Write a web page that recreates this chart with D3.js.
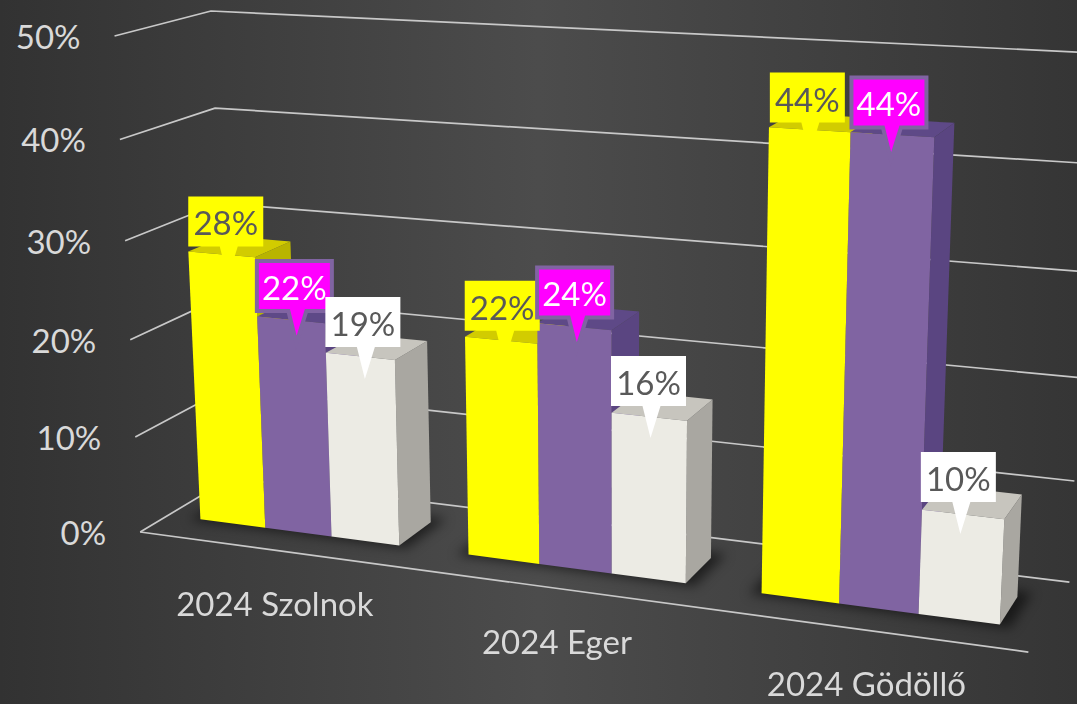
<!DOCTYPE html>
<html><head><meta charset="utf-8">
<script src="https://cdn.jsdelivr.net/npm/d3@7"></script>
<style>
html,body{margin:0;padding:0;background:#404040;}
svg{display:block;}
text{font-family:Lato,"Open Sans",sans-serif;}
</style></head><body>
<svg id="chart" width="1077" height="704"></svg>
<script>
// ---------- data ----------
const categories = ["2024 Szolnok", "2024 Eger", "2024 Gödöllő"];
const seriesNames = ["Sorozat 1", "Sorozat 2", "Sorozat 3"];
const yellowValues = [28, 22, 44];
const purpleValues = [22, 24, 44];
const whiteValues  = [19, 16, 10];
const yTicks = [0, 10, 20, 30, 40, 50];
const tickLabels = ["0%", "10%", "20%", "30%", "40%", "50%"];

// ---------- styles ----------
const seriesStyle = [
  {front:"#ffff00", top:"#d2cc00", side:"#b9b400", box:"#ffff00", boxStroke:"none", text:"#595959"},
  {front:"#8064a2", top:"#5e4987", side:"#5a4581", box:"#ff00ff", boxStroke:"#8064a2", text:"#ffffff"},
  {front:"#ecebe4", top:"#c7c5be", side:"#a9a7a1", box:"#ffffff", boxStroke:"none", text:"#595959"}
];

// ---------- 3D perspective camera ----------
const cam = {
  f: 2550, cx: 538, cy: 352,
  O: [-0.156, 0.0706, 1],
  ex: [0.924, 0.091, -0.370],
  ey: [-0.0081, -0.965, -0.262],
  ez: [0.378, -0.247, 0.892]
};
function P(X, Y, Z) {
  const p = [0, 1, 2].map(i => cam.O[i] + X * cam.ex[i] + Y * cam.ey[i] + Z * cam.ez[i]);
  return [cam.cx + cam.f * p[0] / p[2], cam.cy + cam.f * p[1] / p[2]];
}
const W = 0.35, HMAX = 0.195;
const gapWidth = 1.0, gapDepth = 1.5;

const yScale = d3.scaleLinear().domain([0, 50]).range([0, HMAX]);
const xCat = d3.scaleBand().domain(categories).range([0, W]).paddingInner(0).paddingOuter(0);
const xSer = d3.scaleBand().domain(d3.range(3)).range([0, xCat.bandwidth()]).paddingInner(0).paddingOuter(gapWidth / 2);
const bw = xSer.bandwidth();
const D = bw * (1 + gapDepth);
const z0 = (D - bw) / 2, z1 = z0 + bw;

const series = [yellowValues, purpleValues, whiteValues];

const svg = d3.select("#chart");
const defs = svg.append("defs");
const bg = defs.append("linearGradient").attr("id", "bg").attr("x1", 0).attr("x2", 1).attr("y1", 0).attr("y2", 0);
[[0, "#323232"], [0.5, "#4c4c4c"], [1, "#353535"]].forEach(([o, c]) => bg.append("stop").attr("offset", o).attr("stop-color", c));
svg.append("rect").attr("width", 1077).attr("height", 704).attr("fill", "url(#bg)");
const blur = defs.append("filter").attr("id", "blur").attr("x", "-50%").attr("y", "-50%").attr("width", "200%").attr("height", "200%");
blur.append("feGaussianBlur").attr("stdDeviation", 6);

const line = d3.line();
const closed = pts => line(pts) + "Z";

// gridlines (left wall + back wall)
const grid = svg.append("g");
yTicks.forEach(t => {
  const y = yScale(t);
  grid.append("path").attr("d", line([P(0, y, 0), P(0, y, D), P(W, y, D)]))
    .attr("fill", "none").attr("stroke", "#c8c8c8").attr("stroke-width", 1.7).attr("stroke-linejoin", "round");
});
grid.append("path").attr("d", line([P(0, 0, 0), P(W, 0, 0)]))
  .attr("fill", "none").attr("stroke", "#c8c8c8").attr("stroke-width", 1.7);

// axis labels
const axisG = svg.append("g");
yTicks.forEach((t, i) => {
  const p = P(0, yScale(t), 0);
  axisG.append("text").attr("x", p[0] - 34).attr("y", p[1]).attr("text-anchor", "end")
    .attr("dominant-baseline", "central").attr("font-size", 33).attr("fill", "#d9d9d9").text(tickLabels[i]);
});

// shadows
const shG = svg.append("g").attr("filter", "url(#blur)");
categories.forEach(c => {
  const xa = xCat(c) + xSer(0) - 0.004, xb = xCat(c) + xSer(2) + bw + 0.004;
  shG.append("path").attr("d", closed([P(xa, 0, z0 - 0.002), P(xb, 0, z0 - 0.002), P(xb, 0, z1 + 0.006), P(xa, 0, z1 + 0.006)]))
    .attr("fill", "#000").attr("opacity", 0.55);
});

// bars
const barG = svg.append("g");
const labels = [];
categories.forEach((c, ci) => {
  series.forEach((vals, si) => {
    const st = seriesStyle[si];
    const x0 = xCat(c) + xSer(si), x1 = x0 + bw, h = yScale(vals[ci]);
    barG.append("path").attr("d", closed([P(x1, 0, z0), P(x1, 0, z1), P(x1, h, z1), P(x1, h, z0)])).attr("fill", st.side);
    barG.append("path").attr("d", closed([P(x0, h, z0), P(x1, h, z0), P(x1, h, z1), P(x0, h, z1)])).attr("fill", st.top);
    barG.append("path").attr("d", closed([P(x0, 0, z0), P(x1, 0, z0), P(x1, h, z0), P(x0, h, z0)])).attr("fill", st.front);
    labels.push({anchor: P((x0 + x1) / 2, h, D / 2), v: vals[ci], st});
  });
});

// category labels
categories.forEach(c => {
  const a = P(xCat(c), 0, 0), b = P(xCat(c) + xCat.bandwidth(), 0, 0);
  svg.append("text").attr("x", (a[0] + b[0]) / 2).attr("y", (a[1] + b[1]) / 2 + 66)
    .attr("text-anchor", "middle").attr("font-size", 33).attr("fill", "#d9d9d9").text(c);
});

// data callouts
const lblG = svg.append("g");
labels.forEach(L => {
  const bwid = 75, bh = 50;
  const cx = L.anchor[0] - 14, by = L.anchor[1];
  const bx = cx - bwid / 2, ty = by - bh;
  const tip = [cx + 2, by + 32];
  const d = `M${bx},${ty}H${bx + bwid}V${by}H${cx + 12}L${tip[0]},${tip[1]}L${cx - 6},${by}H${bx}Z`;
  lblG.append("path").attr("d", d).attr("fill", L.st.box)
    .attr("stroke", L.st.boxStroke).attr("stroke-width", L.st.boxStroke === "none" ? 0 : 4).attr("stroke-linejoin", "miter");
  lblG.append("text").attr("x", cx).attr("y", ty + bh / 2 + 1).attr("text-anchor", "middle")
    .attr("dominant-baseline", "central").attr("font-size", 33).attr("fill", L.st.text).text(L.v + "%");
});
</script>
</body></html>
